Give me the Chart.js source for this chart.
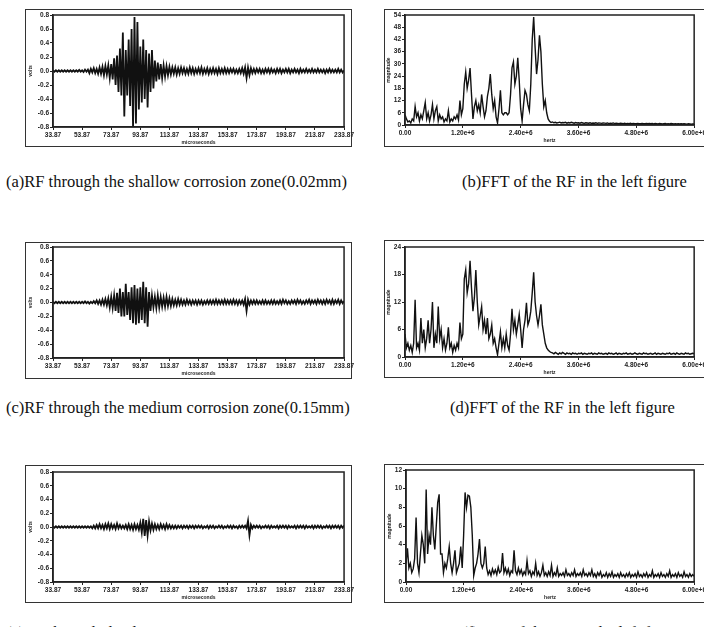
<!DOCTYPE html>
<html>
<head>
<meta charset="utf-8">
<script src="https://cdn.jsdelivr.net/npm/chart.js"></script>
<style>
  html, body { margin: 0; padding: 0; background: #fff; }
  body { position: relative; width: 704px; height: 627px; overflow: hidden; }
  .frame { position: absolute; border: 1px solid #333; box-sizing: border-box; }
  canvas { position: absolute; }
  .cap { position: absolute; white-space: nowrap; font: 16.5px "Liberation Serif", "Times New Roman", serif; color: #111; line-height: 18px; }
</style>
</head>
<body>
<script>
// RF time axis: microseconds, sampled every 1 us from 33.87
const rfStart = 33.87;
const rfStep = 1;
// FFT frequency axis: hertz, sampled every 30 kHz from 0
const fftStep = 30000;

const rfXTicks = [33.87, 53.87, 73.87, 93.87, 113.87, 133.87, 153.87, 173.87, 193.87, 213.87, 233.87];
const rfYTicks = [-0.8, -0.6, -0.4, -0.2, 0, 0.2, 0.4, 0.6, 0.8];
const fftXTicks = [0, 1.2e6, 2.4e6, 3.6e6, 4.8e6, 6.0e6];
const fftYTicksShallow = [0, 6, 12, 18, 24, 30, 36, 42, 48, 54];
const fftYTicksMedium = [0, 6, 12, 18, 24];
const fftYTicksDeep = [0, 2, 4, 6, 8, 10, 12];

// (a) shallow corrosion zone RF (volts)
const rfShallow = [
  0.01,-0.01,0.01,-0.01,0.01,-0.01,0.01,-0.01,0.01,-0.01,
  0.01,-0.01,0.01,-0.01,0.01,-0.01,0.01,-0.01,0.015,-0.01,
  0.01,-0.015,0.02,-0.01,0.02,-0.03,0.03,-0.02,0.04,-0.03,
  0.03,-0.04,0.05,-0.04,0.06,-0.06,0.07,-0.05,0.08,-0.1,
  0.1,-0.12,0.18,-0.2,0.22,-0.3,0.32,-0.35,0.55,-0.65,
  0.3,-0.35,0.45,-0.5,0.6,-0.8,0.77,-0.75,0.7,-0.55,
  0.35,-0.45,0.45,-0.4,0.3,-0.52,0.25,-0.3,0.3,-0.25,
  0.15,-0.15,0.12,-0.12,0.1,-0.1,0.08,-0.08,0.07,-0.06,
  0.06,-0.05,0.05,-0.04,0.05,-0.05,0.04,-0.04,0.05,-0.03,
  0.04,-0.04,0.03,-0.04,0.05,-0.03,0.04,-0.04,0.03,-0.03,
  0.04,-0.03,0.05,-0.04,0.03,-0.03,0.04,-0.04,0.03,-0.03,
  0.04,-0.03,0.03,-0.04,0.04,-0.03,0.03,-0.03,0.04,-0.03,
  0.03,-0.03,0.03,-0.02,0.03,-0.03,0.02,-0.03,0.03,-0.03,
  0.04,-0.04,0.05,-0.1,0.05,-0.06,0.04,-0.03,0.03,-0.03,
  0.03,-0.02,0.03,-0.03,0.02,-0.03,0.03,-0.02,0.03,-0.03,
  0.03,-0.02,0.02,-0.03,0.03,-0.02,0.03,-0.03,0.02,-0.02,
  0.03,-0.02,0.03,-0.03,0.02,-0.02,0.03,-0.02,0.02,-0.03,
  0.03,-0.02,0.02,-0.02,0.03,-0.02,0.02,-0.02,0.03,-0.02,
  0.02,-0.02,0.03,-0.02,0.02,-0.02,0.02,-0.03,0.02,-0.02,
  0.03,-0.02,0.02,-0.02,0.02,-0.02,0.03,-0.02,0.02,-0.02,
  0.01
];

// (c) medium corrosion zone RF (volts)
const rfMedium = [
  0.01,-0.01,0.01,-0.01,0.01,-0.01,0.01,-0.01,0.01,-0.01,
  0.01,-0.01,0.01,-0.01,0.01,-0.01,0.01,-0.01,0.01,-0.01,
  0.01,-0.01,0.015,-0.01,0.01,-0.015,0.01,-0.01,0.02,-0.01,
  0.03,-0.02,0.03,-0.03,0.04,-0.03,0.05,-0.04,0.06,-0.07,
  0.08,-0.08,0.1,-0.12,0.14,-0.15,0.2,-0.2,0.15,-0.2,
  0.27,-0.18,0.15,-0.25,0.22,-0.3,0.25,-0.32,0.2,-0.3,
  0.22,-0.25,0.3,-0.3,0.22,-0.35,0.15,-0.12,0.1,-0.07,
  0.08,-0.08,0.1,-0.07,0.08,-0.06,0.07,-0.06,0.08,-0.05,
  0.06,-0.05,0.05,-0.04,0.04,-0.04,0.05,-0.03,0.04,-0.03,
  0.03,-0.03,0.04,-0.02,0.03,-0.03,0.03,-0.02,0.03,-0.03,
  0.03,-0.02,0.03,-0.03,0.02,-0.02,0.03,-0.02,0.03,-0.02,
  0.03,-0.02,0.04,-0.02,0.03,-0.02,0.03,-0.02,0.04,-0.02,
  0.03,-0.02,0.03,-0.02,0.04,-0.02,0.03,-0.03,0.03,-0.02,
  0.03,-0.03,0.05,-0.12,0.04,-0.03,0.03,-0.02,0.03,-0.02,
  0.03,-0.02,0.02,-0.02,0.03,-0.02,0.03,-0.02,0.02,-0.02,
  0.03,-0.02,0.03,-0.02,0.02,-0.02,0.03,-0.02,0.04,-0.01,
  0.03,-0.02,0.02,-0.02,0.03,-0.01,0.03,-0.02,0.04,-0.01,
  0.03,-0.02,0.02,-0.02,0.03,-0.01,0.04,-0.02,0.03,-0.01,
  0.03,-0.02,0.04,-0.01,0.03,-0.02,0.03,-0.02,0.04,-0.01,
  0.03,-0.02,0.04,-0.02,0.03,-0.01,0.04,-0.02,0.03,-0.01,
  0.02
];

// (e) deep corrosion zone RF (volts)
const rfDeep = [
  0.01,-0.01,0.01,-0.01,0.01,-0.01,0.01,-0.01,0.01,-0.01,
  0.01,-0.01,0.01,-0.01,0.01,-0.01,0.01,-0.01,0.01,-0.01,
  0.01,-0.01,0.01,-0.01,0.01,-0.01,0.01,-0.02,0.02,-0.02,
  0.03,-0.02,0.04,-0.02,0.03,-0.03,0.04,-0.02,0.05,-0.03,
  0.04,-0.02,0.03,-0.03,0.05,-0.02,0.03,-0.02,0.02,-0.02,
  0.03,-0.03,0.04,-0.03,0.03,-0.04,0.04,-0.03,0.03,-0.04,
  0.06,-0.08,0.12,-0.13,0.1,-0.12,0.08,-0.05,0.05,-0.04,
  0.04,-0.03,0.03,-0.03,0.04,-0.02,0.03,-0.03,0.04,-0.02,
  0.03,-0.02,0.02,-0.02,0.02,-0.02,0.02,-0.01,0.02,-0.02,
  0.02,-0.01,0.02,-0.02,0.02,-0.01,0.02,-0.02,0.02,-0.01,
  0.02,-0.01,0.02,-0.02,0.01,-0.01,0.02,-0.02,0.02,-0.01,
  0.02,-0.02,0.01,-0.01,0.02,-0.01,0.02,-0.02,0.01,-0.01,
  0.02,-0.01,0.02,-0.02,0.02,-0.01,0.01,-0.02,0.02,-0.01,
  0.02,-0.01,0.02,-0.02,0.09,-0.12,0.03,-0.02,0.02,-0.01,
  0.02,-0.01,0.02,-0.02,0.01,-0.01,0.02,-0.01,0.02,-0.02,
  0.02,-0.01,0.01,-0.01,0.02,-0.02,0.02,-0.01,0.02,-0.01,
  0.02,-0.02,0.02,-0.01,0.01,-0.01,0.02,-0.02,0.02,-0.01,
  0.02,-0.01,0.02,-0.02,0.02,-0.01,0.01,-0.01,0.02,-0.02,
  0.02,-0.01,0.02,-0.01,0.02,-0.02,0.01,-0.01,0.02,-0.01,
  0.02,-0.02,0.02,-0.01,0.02,-0.01,0.02,-0.02,0.02,-0.01,
  0.02
];

// (b) FFT of shallow RF (magnitude)
const fftShallow = [
  5,3,1.5,2,1,3,2,9,4,6,
  2,5,3,7,11,3,6,2,5,10,
  3,7,9,2,5,3,4,1.5,3,2,
  7,1.5,3,2,4,3,5,2.5,12,5,
  8,20,26,18,22,28,15,3,9,12,
  7,10,6,15,9,4,7,14,18,25,
  15,8,12,4,1,8,17,6,5,6,
  6,5,6,15,28,31,20,24,33,22,
  8,2,10,17,15,10,7,20,42,53,
  38,25,32,44,36,20,9,12,6,3,
  1.8,1.2,1.5,1.1,1.3,1,1.2,1.4,1,1.2,
  1.1,1.3,0.9,1.2,1,1.3,1.1,0.9,1.2,1,
  1.1,0.9,1.2,1,0.8,1.1,1,0.9,1.1,0.8,
  1,0.9,1.1,0.8,1,0.9,0.8,1,0.9,0.8,
  1,0.7,0.9,0.8,1,0.7,0.9,0.8,0.7,0.9,
  0.8,0.7,0.9,0.6,0.8,0.7,0.9,0.6,0.8,0.7,
  0.6,0.8,0.7,0.6,0.8,0.6,0.7,0.8,0.6,0.7,
  0.6,0.7,0.5,0.7,0.6,0.5,0.7,0.6,0.5,0.6,
  0.7,0.5,0.6,0.5,0.7,0.6,0.5,0.6,0.5,0.6,
  0.5,0.6,0.5,0.6,0.5,0.4,0.6,0.5,0.4,0.5,
  0.5
];

// (d) FFT of medium RF (magnitude)
const fftMedium = [
  5,2,3,1.5,2.5,1,3,12.5,2,3,
  1.5,8.5,3,6,2,4,8,3,6,12,
  2,5,3,11,4,6,2,4,1.5,3,
  6.5,2,3,1,2.5,1.5,3,2,7.5,4,
  5,17,19,14,16,21,15,10,13,19,
  12,7,9,11,6,8,5,8.5,4,5,
  7,3,4,2,0.5,3,5.5,2,4,2,
  5,2.5,1.5,5,10.5,6,8,5,7,9.3,
  6,2,6,8,11.8,7,8,10,14,18.5,
  12,9,7,9,11.5,7,5,3,2,1.5,
  1.2,1,0.9,0.7,1,0.8,0.6,0.9,0.7,1,
  0.8,0.6,0.9,0.7,0.8,0.6,0.9,0.7,0.8,0.6,
  0.8,0.7,0.9,0.6,0.8,0.7,0.6,0.8,0.7,0.9,
  0.6,0.8,0.7,0.6,0.9,0.7,0.8,0.6,0.7,0.8,
  0.6,0.9,0.7,0.8,0.6,0.7,0.9,0.6,0.8,0.7,
  0.6,0.8,0.7,0.9,0.6,0.7,0.8,0.6,0.7,0.9,
  0.7,0.6,0.8,0.7,0.6,0.9,0.7,0.8,0.6,0.7,
  0.8,0.6,0.7,0.9,0.6,0.8,0.7,0.6,0.8,0.7,
  0.6,0.8,0.7,0.9,0.6,0.7,0.8,0.6,0.9,0.7,
  0.6,0.8,0.7,0.6,0.9,0.7,0.8,0.6,0.7,0.8,
  0.7
];

// (f) FFT of deep RF (magnitude)
const fftDeep = [
  2,3.6,1.5,2,1,1.4,2.5,6.9,2,1,
  3,5,4,2,9.9,3,5,4,8,5,
  3.5,6,8.5,9.4,3,3,1,2,1.5,2.5,
  3.8,2,1,2,3.4,1,1.5,2,3.8,1.5,
  5,9.6,8,9.3,9.2,8,5,0.7,1.5,2,
  3,4.6,2,1.5,2,3.8,1.5,0.8,1.2,0.7,
  1.4,0.9,1.3,0.8,1.6,1,1.2,3.1,1,1.5,
  0.9,1.4,0.7,1.2,1,3.4,1.2,0.8,1.5,0.9,
  1.3,0.7,1.1,0.8,2.3,0.9,1.2,0.6,1.1,0.8,
  2,0.7,1.1,0.6,1,1.8,0.7,1,0.6,1.1,
  0.7,1.8,0.6,1,0.7,1.5,0.6,0.9,0.7,1,
  0.6,1.3,0.7,0.9,0.6,1,0.7,1.3,0.6,0.9,
  0.7,1,0.6,1.3,0.7,0.9,0.6,1,0.7,1.3,
  0.6,0.9,0.5,1,0.7,1.1,0.5,0.8,0.6,1,
  0.5,0.9,0.6,1.1,0.5,0.8,0.6,0.9,0.5,1,
  0.6,0.8,0.5,0.9,0.6,1,0.5,0.8,0.6,0.9,
  0.5,1.1,0.6,0.8,0.5,0.9,0.6,1,0.5,0.8,
  0.6,1.2,0.5,0.8,0.6,0.9,0.5,1,0.6,0.8,
  0.5,0.9,0.6,1.2,0.5,0.8,0.6,0.9,0.5,1,
  0.6,0.8,0.5,1.1,0.6,0.8,0.5,0.9,0.6,0.8,
  0.6
];

const captions = [
  '(a)RF through the shallow corrosion zone(0.02mm)',
  '(b)FFT of the RF in the left figure',
  '(c)RF through the medium corrosion zone(0.15mm)',
  '(d)FFT of the RF in the left figure',
  '(e)RF through the deep corrosion zone',
  '(f)FFT of the RF in the left figure'
];

// page layout (pixels)
const panels = [
  { kind: 'rf',  values: rfShallow, yTicks: rfYTicks, frame: [25, 9, 327, 138],   plot: [53, 15, 292, 112] },
  { kind: 'fft', values: fftShallow, yTicks: fftYTicksShallow, frame: [384, 9, 330, 138], plot: [405, 15, 292, 110] },
  { kind: 'rf',  values: rfMedium, yTicks: rfYTicks, frame: [25, 242, 327, 137],  plot: [53, 247, 292, 111] },
  { kind: 'fft', values: fftMedium, yTicks: fftYTicksMedium, frame: [384, 240, 330, 138], plot: [405, 247, 292, 110] },
  { kind: 'rf',  values: rfDeep, yTicks: rfYTicks, frame: [25, 465, 327, 138],  plot: [53, 472, 292, 110] },
  { kind: 'fft', values: fftDeep, yTicks: fftYTicksDeep, frame: [384, 464, 330, 139], plot: [406, 470, 291, 112] }
];
const capPos = [
  [6, 182], [462, 182],
  [6, 408], [450, 408],
  [6, 633], [462, 633]
];

const AXW = 30, AXH = 24, PADT = 6, PADR = 10;
const ink = '#222';
const tickFont = { family: 'Liberation Sans, Arial, sans-serif', size: 6.5, weight: 'bold' };
const titleFont = { family: 'Liberation Sans, Arial, sans-serif', size: 5, weight: 'bold' };

const plotFrame = {
  id: 'plotFrame',
  afterDraw(chart) {
    const { ctx, chartArea: a } = chart;
    ctx.save();
    ctx.strokeStyle = ink;
    ctx.lineWidth = 1.5;
    ctx.strokeRect(a.left, a.top, a.right - a.left, a.bottom - a.top);
    ctx.restore();
  }
};

function fixTicks(list) {
  return (axis) => { axis.ticks = list.map(v => ({ value: v })); };
}

function makePanel(p) {
  const f = document.createElement('div');
  f.className = 'frame';
  Object.assign(f.style, { left: p.frame[0] + 'px', top: p.frame[1] + 'px', width: p.frame[2] + 'px', height: p.frame[3] + 'px' });
  document.body.appendChild(f);

  const cv = document.createElement('canvas');
  const w = p.plot[2] + AXW + PADR, h = p.plot[3] + PADT + AXH;
  cv.width = w; cv.height = h;
  Object.assign(cv.style, { left: (p.plot[0] - AXW) + 'px', top: (p.plot[1] - PADT) + 'px', width: w + 'px', height: h + 'px' });
  document.body.appendChild(cv);

  const isRF = p.kind === 'rf';
  const pts = p.values.map((v, i) => ({ x: isRF ? rfStart + i * rfStep : i * fftStep, y: v }));
  const xTicks = isRF ? rfXTicks : fftXTicks;
  const yMax = p.yTicks[p.yTicks.length - 1];

  new Chart(cv, {
    type: 'line',
    data: { datasets: [{ data: pts, borderColor: '#111', borderWidth: isRF ? 1.8 : 1.4, pointRadius: 0, tension: 0, fill: false }] },
    options: {
      responsive: false,
      animation: false,
      devicePixelRatio: 1,
      layout: { padding: { top: PADT, right: PADR, left: 0, bottom: 0 } },
      plugins: { legend: { display: false }, tooltip: { enabled: false } },
      scales: {
        x: {
          type: 'linear',
          min: xTicks[0], max: xTicks[xTicks.length - 1],
          afterBuildTicks: fixTicks(xTicks),
          afterFit: (s) => { s.height = AXH; },
          grid: { drawOnChartArea: false, drawTicks: true, tickLength: 3, color: ink },
          border: { display: true, color: ink, width: 1.5 },
          ticks: {
            autoSkip: false, maxRotation: 0, padding: 1, color: ink, font: tickFont,
            callback: (v) => isRF ? Number(v).toFixed(2) : (v === 0 ? '0.00' : (v / 1e6).toFixed(2) + 'e+6')
          },
          title: { display: true, text: isRF ? 'microseconds' : 'hertz', color: ink, font: titleFont, padding: { top: 0, bottom: 5 } }
        },
        y: {
          min: p.yTicks[0], max: yMax,
          afterBuildTicks: fixTicks(p.yTicks),
          afterFit: (s) => { s.width = AXW; },
          grid: { drawOnChartArea: false, drawTicks: true, tickLength: 3, color: ink },
          border: { display: true, color: ink, width: 1.5 },
          ticks: {
            autoSkip: false, padding: 1, color: ink, font: tickFont,
            callback: (v) => isRF ? Number(v).toFixed(1) : String(v)
          },
          title: { display: true, text: isRF ? 'volts' : 'magnitude', color: ink, font: titleFont, padding: { top: isRF ? 5 : 11, bottom: 0 } }
        }
      }
    },
    plugins: [plotFrame]
  });
}

panels.forEach(makePanel);

captions.forEach((text, i) => {
  const el = document.createElement('div');
  el.className = 'cap';
  el.textContent = text;
  el.style.left = capPos[i][0] + 'px';
  el.style.top = (capPos[i][1] - 9) + 'px';
  document.body.appendChild(el);
});
</script>
</body>
</html>
